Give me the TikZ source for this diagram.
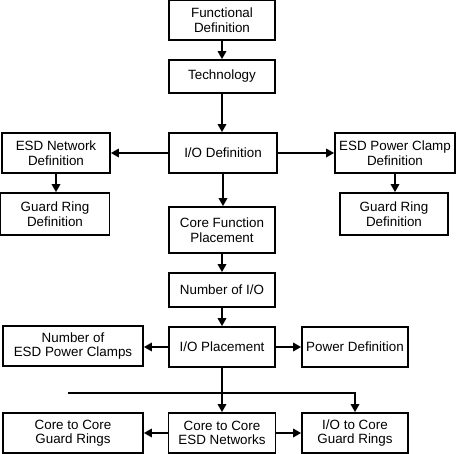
\documentclass[tikz,border=0pt]{standalone}
\usepackage{fontspec}
\setmainfont{Liberation Sans}
\usetikzlibrary{arrows.meta}
\begin{document}
\begin{tikzpicture}[x=1pt,y=-1pt,
  box/.style={draw, line width=1.7pt, align=center, inner sep=0pt, font=\fontsize{13.4}{14.5}\selectfont},
  arr/.style={line width=1.6pt, -{Triangle[length=8pt,width=8.5pt]}}]
\useasboundingbox (0,0) rectangle (456,454);
\node[box, minimum width=106, minimum height=40] (f) at (222,20) {Functional\\Definition};
\node[box, minimum width=106, minimum height=33] (t) at (222,76.5) {Technology};
\node[box, minimum width=108, minimum height=40] (io) at (223,153) {I/O Definition};
\node[box, minimum width=108, minimum height=40] (esdn) at (56,153) {ESD Network\\Definition};
\node[box, minimum width=120, minimum height=40] (esdp) at (395,153) {ESD Power Clamp\\Definition};
\node[box, minimum width=109, minimum height=42] (grl) at (55,214) {Guard Ring\\Definition};
\node[box, minimum width=108, minimum height=42] (grr) at (394,214) {Guard Ring\\Definition};
\node[box, minimum width=106, minimum height=46] (cfp) at (222,230) {Core Function\\Placement};
\node[box, minimum width=106, minimum height=34] (nio) at (222,290) {Number of I/O};
\node[box, minimum width=106, minimum height=40] (iop) at (222,347) {I/O Placement};
\node[box, minimum width=140, minimum height=40] (nesd) at (73,346) {Number of\\ESD Power Clamps};
\node[box, minimum width=106, minimum height=40] (pd) at (355,347) {Power Definition};
\node[box, minimum width=140, minimum height=40] (ccg) at (73,433) {Core to Core\\Guard Rings};
\node[box, minimum width=107, minimum height=40] (cce) at (222,433) {Core to Core\\ESD Networks};
\node[box, minimum width=106, minimum height=40] (iog) at (355,433) {I/O to Core\\Guard Rings};
\coordinate (hl) at (68,393);
\draw[arr] (f) -- (t);
\draw[arr] (t) -- (t |- io.north);
\draw[arr] (io) -- (esdn);
\draw[arr] (io) -- (esdp);
\draw[arr] (esdn) -- (esdn |- grl.north);
\draw[arr] (esdp) -- (esdp |- grr.north);
\draw[arr] (io) -- (io |- cfp.north);
\draw[arr] (cfp) -- (nio);
\draw[arr] (nio) -- (iop);
\draw[arr] (iop) -- (iop -| nesd.east);
\draw[arr] (iop) -- (pd);
\draw[arr] (iop) -- (cce);
\draw[arr] (hl) -| (iog.north);
\draw[arr] (cce) -- (cce -| ccg.east);
\draw[arr] (cce) -- (iog);
\end{tikzpicture}
\end{document}
